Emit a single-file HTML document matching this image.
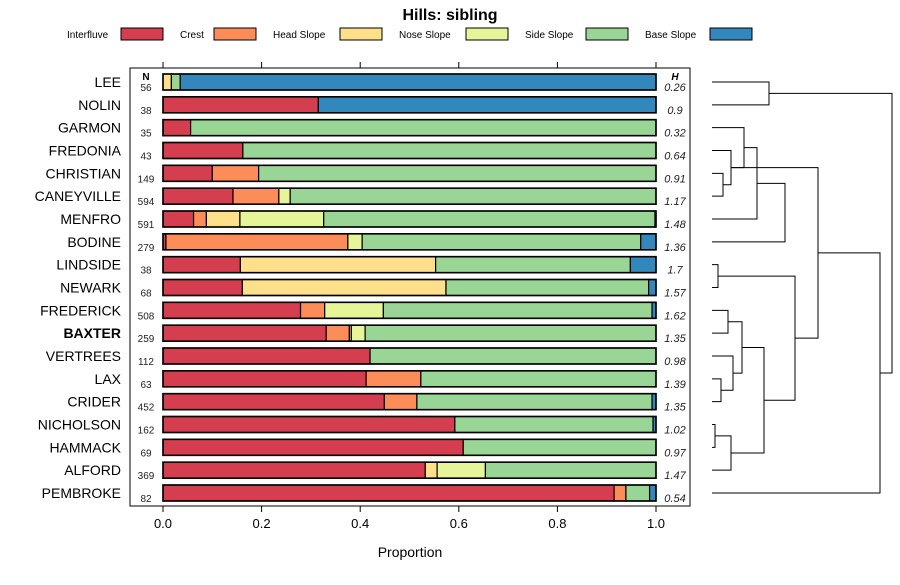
<!DOCTYPE html>
<html><head><meta charset="utf-8"><style>
body{margin:0;background:#fff;}
svg text{font-family:"Liberation Sans",sans-serif;}
</style></head><body>
<svg id="c" width="900" height="580" xmlns="http://www.w3.org/2000/svg"></svg>
<script>
const categories=["LEE","NOLIN","GARMON","FREDONIA","CHRISTIAN","CANEYVILLE","MENFRO","BODINE","LINDSIDE","NEWARK","FREDERICK","BAXTER","VERTREES","LAX","CRIDER","NICHOLSON","HAMMACK","ALFORD","PEMBROKE"];
const seriesNames=["Interfluve","Crest","Head Slope","Nose Slope","Side Slope","Base Slope"];
const interfluve=[0,0.315,0.056,0.162,0.10,0.142,0.062,0.006,0.157,0.161,0.279,0.331,0.42,0.412,0.449,0.592,0.609,0.532,0.915];
const crest=[0,0,0,0,0.094,0.093,0.026,0.369,0,0,0.049,0.047,0,0.111,0.066,0,0,0,0.024];
const headSlope=[0.017,0,0,0,0,0,0.068,0,0.396,0.413,0,0.004,0,0,0,0,0,0.024,0];
const noseSlope=[0,0,0,0,0,0.023,0.17,0.029,0,0,0.119,0.028,0,0,0,0,0,0.098,0];
const sideSlope=[0.018,0,0.944,0.838,0.806,0.742,0.672,0.565,0.395,0.411,0.545,0.59,0.58,0.477,0.477,0.402,0.391,0.346,0.048];
const baseSlope=[0.965,0.685,0,0,0,0,0.002,0.031,0.052,0.015,0.008,0,0,0,0.008,0.006,0,0,0.013];
const nValues=[56,38,35,43,149,594,591,279,38,68,508,259,112,63,452,162,69,369,82];
const hValues=["0.26","0.9","0.32","0.64","0.91","1.17","1.48","1.36","1.7","1.57","1.62","1.35","0.98","1.39","1.35","1.02","0.97","1.47","0.54"];
const xTicks=[0,0.2,0.4,0.6,0.8,1.0];
const xTickLabels=["0.0","0.2","0.4","0.6","0.8","1.0"];
// dendrogram merges: negative = leaf index (-(i+1)), positive = merge index (1-based)
const mergeLeft =[-5,-4,-3,-7,-8,-9,-11,-14,-13,7,-16,-18,10,6,2,-1,-19,16];
const mergeRight=[-6,1,2,3,4,-10,-12,-15,8,9,-17,11,12,13,14,-2,15,17];
const mergeHeight=[11,19,32,45,73,6,16,9,21,30,3,19,52,83,106,57,168,180];
const colors=["#D53E4F","#FC8D59","#FEE08B","#E6F598","#99D594","#3288BD"];
const series=[interfluve,crest,headSlope,noseSlope,sideSlope,baseSlope];

const svg=document.getElementById('c');
const NS="http://www.w3.org/2000/svg";
function mk(tag,attrs,parent){const e=document.createElementNS(NS,tag);for(const k in attrs)e.setAttribute(k,attrs[k]);(parent||svg).appendChild(e);return e;}
const x0=163,x1=656;
const xs=v=>x0+(x1-x0)*v;
const ys=i=>82+i*(493-82)/(categories.length-1);
const dx=h=>712+h;

let t=mk('text',{x:450,y:20,'text-anchor':'middle','font-size':16,'font-weight':'bold'});t.textContent="Hills: sibling";



const legX=[[67,121],[180,214],[273,340],[399,466],[525,586],[645,710]];
seriesNames.forEach((n,k)=>{
  const g=mk('g',{});
  
  
  const tx=mk('text',{x:legX[k][0],y:38,'font-size':10},g);tx.textContent=n;
  mk('rect',{x:legX[k][1],y:28,width:42,height:12,fill:colors[k],stroke:'#000','stroke-width':1},g);
});

const frame=mk('rect',{x:130,y:68,width:560,height:438,fill:'none',stroke:'#000','stroke-width':1});



xTicks.forEach((v,i)=>{
  mk('line',{x1:xs(v),x2:xs(v),y1:506,y2:512,stroke:'#000'});
  mk('line',{x1:xs(v),x2:xs(v),y1:62,y2:68,stroke:'#000'});
  const l=mk('text',{x:xs(v),y:528,'text-anchor':'middle','font-size':13});l.textContent=xTickLabels[i];
  
  
});
let xt=mk('text',{x:410,y:557,'text-anchor':'middle','font-size':14});xt.textContent="Proportion";



let nh=mk('text',{x:146,y:80,'text-anchor':'middle','font-size':10,'font-weight':'bold'});nh.textContent="N";


let hh=mk('text',{x:675,y:80,'text-anchor':'middle','font-size':10,'font-weight':'bold','font-style':'italic'});hh.textContent="H";



categories.forEach((c,i)=>{
  const y=ys(i);
  const lab=mk('text',{x:121,y:y+5,'text-anchor':'end','font-size':14,'font-weight':c==='BAXTER'?'bold':'normal'});lab.textContent=c;
  
  
  const nt=mk('text',{x:146,y:y+9,'text-anchor':'middle','font-size':10,fill:'#222'});nt.textContent=nValues[i];
  
  
  const ht=mk('text',{x:675,y:y+9,'text-anchor':'middle','font-size':11,'font-style':'italic',fill:'#222'});ht.textContent=hValues[i];
  
  
  let cum=0;
  series.forEach((s,k)=>{
    const v=s[i];if(v<=0)return;
    const r=mk('rect',{x:xs(cum),y:y-8,width:xs(cum+v)-xs(cum),height:16,fill:colors[k],stroke:'#000','stroke-width':1.2});
    
    
    cum+=v;
  });
  const o=mk('rect',{x:xs(0),y:y-8,width:xs(1)-xs(0),height:16,fill:'none',stroke:'#000','stroke-width':1.6});
  
  
});

const nodeY=[],nodeH=[];
function pos(ref){return ref<0?[ys(-ref-1),0]:[nodeY[ref-1],nodeH[ref-1]];}
mergeLeft.forEach((l,m)=>{
  const a=pos(l),b=pos(mergeRight[m]);const h=mergeHeight[m];
  const p=mk('path',{d:`M${dx(a[1])},${a[0]}H${dx(h)}V${b[0]}H${dx(b[1])}`,fill:'none',stroke:'#000','stroke-width':1});
  
  
  nodeY.push((a[0]+b[0])/2);nodeH.push(h);
});
</script>
</body></html>
